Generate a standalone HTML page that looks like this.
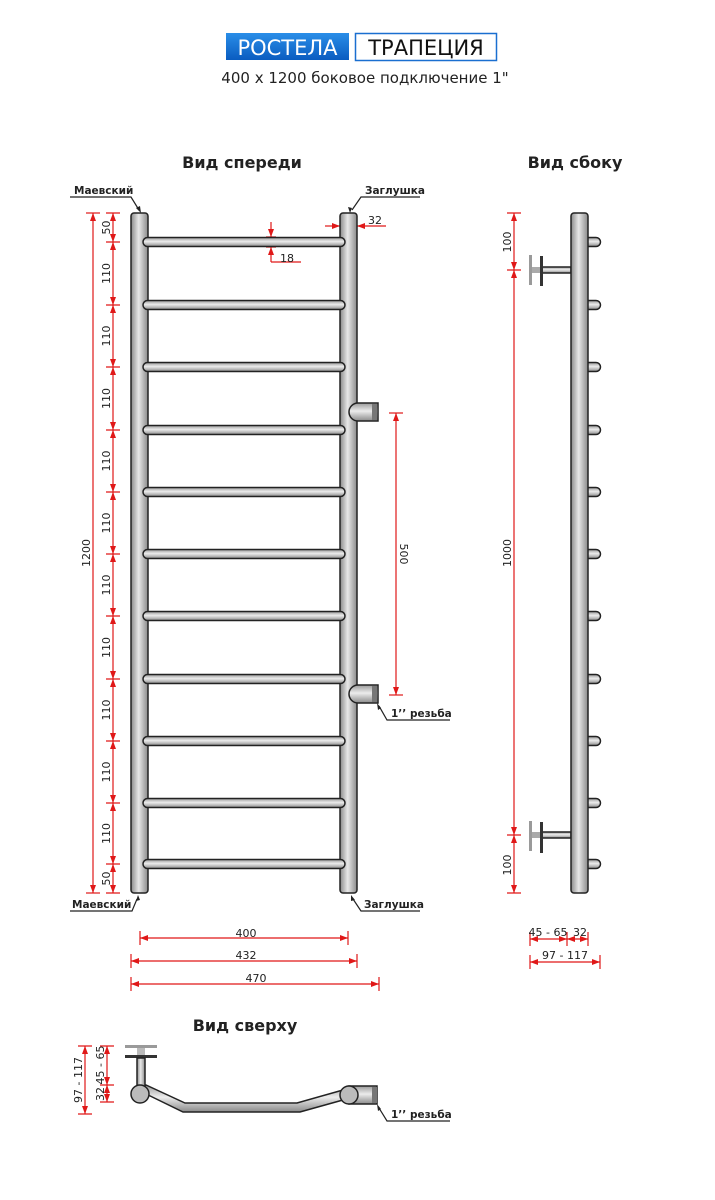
<!DOCTYPE html>
<html><head><meta charset="utf-8"><style>
html,body{margin:0;padding:0;background:#fff;}
svg{display:block;}
text{font-family:"DejaVu Sans","Liberation Sans",sans-serif;}
</style></head><body>
<svg width="715" height="1200" viewBox="0 0 715 1200" xmlns="http://www.w3.org/2000/svg">
<defs>
<linearGradient id="gv" x1="0" y1="0" x2="1" y2="0">
<stop offset="0" stop-color="#8a8a8a"/><stop offset="0.45" stop-color="#e8e8e8"/><stop offset="1" stop-color="#8a8a8a"/></linearGradient>
<linearGradient id="gh" x1="0" y1="0" x2="0" y2="1">
<stop offset="0" stop-color="#9a9a9a"/><stop offset="0.45" stop-color="#ececec"/><stop offset="1" stop-color="#8a8a8a"/></linearGradient>
<linearGradient id="blue" x1="0" y1="0" x2="0" y2="1">
<stop offset="0" stop-color="#2a8ee8"/><stop offset="1" stop-color="#0a5cc0"/></linearGradient>
<marker id="a" markerUnits="userSpaceOnUse" markerWidth="8" markerHeight="6" refX="8" refY="3" orient="auto-start-reverse"><path d="M0,0 L8,3 L0,6 z" fill="#e01818"/></marker>
</defs>

<!-- header -->
<rect x="226" y="33" width="123" height="27" fill="url(#blue)"/>
<text x="287.5" y="55" font-size="21" fill="#fff" text-anchor="middle">РОСТЕЛА</text>
<rect x="355.5" y="33.5" width="141" height="27" fill="#fff" stroke="#1a6fd0" stroke-width="1.5"/>
<text x="426" y="55" font-size="21" fill="#111" text-anchor="middle">ТРАПЕЦИЯ</text>
<text x="365" y="83" font-size="15" fill="#222" text-anchor="middle">400 x 1200 боковое подключение 1"</text>

<text x="242" y="168" font-size="16" font-weight="bold" fill="#222" text-anchor="middle">Вид спереди</text>
<text x="575" y="168" font-size="16" font-weight="bold" fill="#222" text-anchor="middle">Вид сбоку</text>
<text x="245" y="1031" font-size="16" font-weight="bold" fill="#222" text-anchor="middle">Вид сверху</text>

<g stroke="#e01818" stroke-width="1.2" fill="none">
<line x1="93" y1="213" x2="93" y2="893" marker-start="url(#a)" marker-end="url(#a)"/>
<line x1="86" y1="213" x2="100" y2="213"/><line x1="86" y1="893" x2="100" y2="893"/>
<line x1="113" y1="213" x2="113" y2="242" marker-start="url(#a)" marker-end="url(#a)"/>
<line x1="113" y1="242" x2="113" y2="305" marker-start="url(#a)" marker-end="url(#a)"/>
<line x1="113" y1="305" x2="113" y2="367" marker-start="url(#a)" marker-end="url(#a)"/>
<line x1="113" y1="367" x2="113" y2="430" marker-start="url(#a)" marker-end="url(#a)"/>
<line x1="113" y1="430" x2="113" y2="492" marker-start="url(#a)" marker-end="url(#a)"/>
<line x1="113" y1="492" x2="113" y2="554" marker-start="url(#a)" marker-end="url(#a)"/>
<line x1="113" y1="554" x2="113" y2="616" marker-start="url(#a)" marker-end="url(#a)"/>
<line x1="113" y1="616" x2="113" y2="679" marker-start="url(#a)" marker-end="url(#a)"/>
<line x1="113" y1="679" x2="113" y2="741" marker-start="url(#a)" marker-end="url(#a)"/>
<line x1="113" y1="741" x2="113" y2="803" marker-start="url(#a)" marker-end="url(#a)"/>
<line x1="113" y1="803" x2="113" y2="864" marker-start="url(#a)" marker-end="url(#a)"/>
<line x1="113" y1="864" x2="113" y2="893" marker-start="url(#a)" marker-end="url(#a)"/>
<path d="M106 213h14M106 242h14M106 305h14M106 367h14M106 430h14M106 492h14M106 554h14M106 616h14M106 679h14M106 741h14M106 803h14M106 864h14M106 893h14"/>
<line x1="396" y1="413" x2="396" y2="695" marker-start="url(#a)" marker-end="url(#a)"/>
<line x1="389" y1="413" x2="403" y2="413"/><line x1="389" y1="695" x2="403" y2="695"/>
<line x1="271" y1="222" x2="271" y2="237" marker-end="url(#a)"/>
<line x1="271" y1="262" x2="271" y2="247" marker-end="url(#a)"/>
<path d="M266 237h10M266 247h10M271 262h30"/>
<line x1="325" y1="226" x2="340" y2="226" marker-end="url(#a)"/>
<line x1="386" y1="226" x2="357" y2="226" marker-end="url(#a)"/>
<line x1="140" y1="938" x2="348" y2="938" marker-start="url(#a)" marker-end="url(#a)"/>
<path d="M140 931v14M348 931v14"/>
<line x1="131" y1="961" x2="357" y2="961" marker-start="url(#a)" marker-end="url(#a)"/>
<path d="M131 954v14M357 954v14"/>
<line x1="131" y1="984" x2="379" y2="984" marker-start="url(#a)" marker-end="url(#a)"/>
<path d="M131 977v14M379 977v14"/>
<line x1="514" y1="213" x2="514" y2="270" marker-start="url(#a)" marker-end="url(#a)"/>
<line x1="514" y1="270" x2="514" y2="835" marker-start="url(#a)" marker-end="url(#a)"/>
<line x1="514" y1="835" x2="514" y2="893" marker-start="url(#a)" marker-end="url(#a)"/>
<path d="M507 213h14M507 270h14M507 835h14M507 893h14"/>
<line x1="530" y1="939" x2="567" y2="939" marker-start="url(#a)" marker-end="url(#a)"/>
<line x1="567" y1="939" x2="588" y2="939" marker-start="url(#a)" marker-end="url(#a)"/>
<path d="M530 932v14M567 932v14M588 932v14"/>
<line x1="530" y1="962" x2="600" y2="962" marker-start="url(#a)" marker-end="url(#a)"/>
<path d="M530 955v14M600 955v14"/>
<line x1="85" y1="1046" x2="85" y2="1114" marker-start="url(#a)" marker-end="url(#a)"/>
<path d="M78 1046h14M78 1114h14"/>
<line x1="107" y1="1046" x2="107" y2="1085" marker-start="url(#a)" marker-end="url(#a)"/>
<line x1="107" y1="1085" x2="107" y2="1102" marker-start="url(#a)" marker-end="url(#a)"/>
<path d="M100 1046h14M100 1085h14M100 1102h14"/>
</g>

<g font-size="11" fill="#222" text-anchor="middle">
<text transform="translate(90,553) rotate(-90)">1200</text>
<text transform="translate(110,227.5) rotate(-90)">50</text>
<text transform="translate(110,273.5) rotate(-90)">110</text>
<text transform="translate(110,336) rotate(-90)">110</text>
<text transform="translate(110,398.5) rotate(-90)">110</text>
<text transform="translate(110,461) rotate(-90)">110</text>
<text transform="translate(110,523) rotate(-90)">110</text>
<text transform="translate(110,585) rotate(-90)">110</text>
<text transform="translate(110,647.5) rotate(-90)">110</text>
<text transform="translate(110,710) rotate(-90)">110</text>
<text transform="translate(110,772) rotate(-90)">110</text>
<text transform="translate(110,833.5) rotate(-90)">110</text>
<text transform="translate(110,878.5) rotate(-90)">50</text>
<text transform="translate(400,554) rotate(90)">500</text>
<text x="287" y="262">18</text>
<text x="375" y="224">32</text>
<text x="246" y="937">400</text>
<text x="246" y="959">432</text>
<text x="256" y="982">470</text>
<text transform="translate(511,242) rotate(-90)">100</text>
<text transform="translate(511,553) rotate(-90)">1000</text>
<text transform="translate(511,865) rotate(-90)">100</text>
<text x="548" y="936">45 - 65</text>
<text x="580" y="936">32</text>
<text x="565" y="959">97 - 117</text>
<text transform="translate(82,1080) rotate(-90)">97 - 117</text>
<text transform="translate(104,1065) rotate(-90)">45 - 65</text>
<text transform="translate(104,1094) rotate(-90)">32</text>
</g>

<!-- front view -->
<g stroke="#222" stroke-width="1.5">
<rect x="131" y="213" width="17" height="680" rx="3" fill="url(#gv)"/>
<rect x="340" y="213" width="17" height="680" rx="3" fill="url(#gv)"/>
<rect x="143" y="237.5" width="202" height="9" rx="4.5" fill="url(#gh)"/>
<rect x="143" y="300.5" width="202" height="9" rx="4.5" fill="url(#gh)"/>
<rect x="143" y="362.5" width="202" height="9" rx="4.5" fill="url(#gh)"/>
<rect x="143" y="425.5" width="202" height="9" rx="4.5" fill="url(#gh)"/>
<rect x="143" y="487.5" width="202" height="9" rx="4.5" fill="url(#gh)"/>
<rect x="143" y="549.5" width="202" height="9" rx="4.5" fill="url(#gh)"/>
<rect x="143" y="611.5" width="202" height="9" rx="4.5" fill="url(#gh)"/>
<rect x="143" y="674.5" width="202" height="9" rx="4.5" fill="url(#gh)"/>
<rect x="143" y="736.5" width="202" height="9" rx="4.5" fill="url(#gh)"/>
<rect x="143" y="798.5" width="202" height="9" rx="4.5" fill="url(#gh)"/>
<rect x="143" y="859.5" width="202" height="9" rx="4.5" fill="url(#gh)"/>
<path d="M358 403 h20 v18 h-20 a9 9 0 0 1 0 -18z" fill="url(#gh)"/>
<path d="M358 685 h20 v18 h-20 a9 9 0 0 1 0 -18z" fill="url(#gh)"/>
</g>
<rect x="372" y="404" width="5" height="16" fill="#777"/>
<rect x="372" y="686" width="5" height="16" fill="#777"/>

<!-- side view -->
<g stroke="#222" stroke-width="1.5" fill="url(#gh)">
<path d="M586 237.5h10a4.5 4.5 0 0 1 0 9h-10z"/>
<path d="M586 300.5h10a4.5 4.5 0 0 1 0 9h-10z"/>
<path d="M586 362.5h10a4.5 4.5 0 0 1 0 9h-10z"/>
<path d="M586 425.5h10a4.5 4.5 0 0 1 0 9h-10z"/>
<path d="M586 487.5h10a4.5 4.5 0 0 1 0 9h-10z"/>
<path d="M586 549.5h10a4.5 4.5 0 0 1 0 9h-10z"/>
<path d="M586 611.5h10a4.5 4.5 0 0 1 0 9h-10z"/>
<path d="M586 674.5h10a4.5 4.5 0 0 1 0 9h-10z"/>
<path d="M586 736.5h10a4.5 4.5 0 0 1 0 9h-10z"/>
<path d="M586 798.5h10a4.5 4.5 0 0 1 0 9h-10z"/>
<path d="M586 859.5h10a4.5 4.5 0 0 1 0 9h-10z"/>
<rect x="542" y="267" width="29" height="6"/>
<rect x="542" y="832" width="29" height="6"/>
<rect x="571" y="213" width="17" height="680" rx="3" fill="url(#gv)"/>
</g>
<rect x="529" y="255" width="3" height="30" fill="#9a9a9a"/>
<rect x="532" y="267" width="10" height="6" fill="#aaa"/>
<rect x="540" y="256" width="3" height="30" fill="#333"/>
<rect x="529" y="821" width="3" height="30" fill="#9a9a9a"/>
<rect x="532" y="832" width="10" height="6" fill="#aaa"/>
<rect x="540" y="822" width="3" height="31" fill="#333"/>

<!-- top view -->
<rect x="125" y="1045" width="32" height="3" fill="#9a9a9a"/>
<rect x="137" y="1048" width="8" height="7" fill="#bbb"/>
<rect x="125" y="1055" width="32" height="3" fill="#333"/>
<g stroke="#222" stroke-width="1.5">
<rect x="137" y="1058" width="8" height="30" fill="url(#gv)"/>
<path d="M140 1091 L183 1112 L300 1112 L350 1098 L350 1088 L297 1103 L185 1103 L146 1085 z" fill="url(#gh)"/>
<rect x="349" y="1086" width="28" height="18" fill="url(#gh)"/>
<circle cx="140" cy="1094" r="9" fill="#bbb"/>
<circle cx="349" cy="1095" r="9" fill="#bbb"/>
</g>
<rect x="372" y="1087" width="5" height="16" fill="#777"/>

<g stroke="#222" stroke-width="1.2" fill="none">
<path d="M70 197h61l8 13"/><path d="M420 197h-59l-9 13"/>
<path d="M70 911h62l5-12"/><path d="M420 911h-59l-8-12"/>
<path d="M450 720h-63l-8-14"/>
<path d="M450 1121h-63l-8-13"/>
</g>
<g fill="#222">
<path d="M141 213l-5-5 4-2z"/><path d="M350 213l-2-6 4 1z"/>
<path d="M138 895l-2 6 4-1z"/><path d="M351 895l4 5-4 1z"/>
<path d="M377 703l1 7 3-2z"/><path d="M377 1104l1 7 3-2z"/>
</g>
<g font-size="10.5" font-weight="bold" fill="#222">
<text x="74" y="194">Маевский</text>
<text x="365" y="194">Заглушка</text>
<text x="72" y="908">Маевский</text>
<text x="364" y="908">Заглушка</text>
<text x="391" y="717">1’’ резьба</text>
<text x="391" y="1118">1’’ резьба</text>
</g>
</svg>
</body></html>
